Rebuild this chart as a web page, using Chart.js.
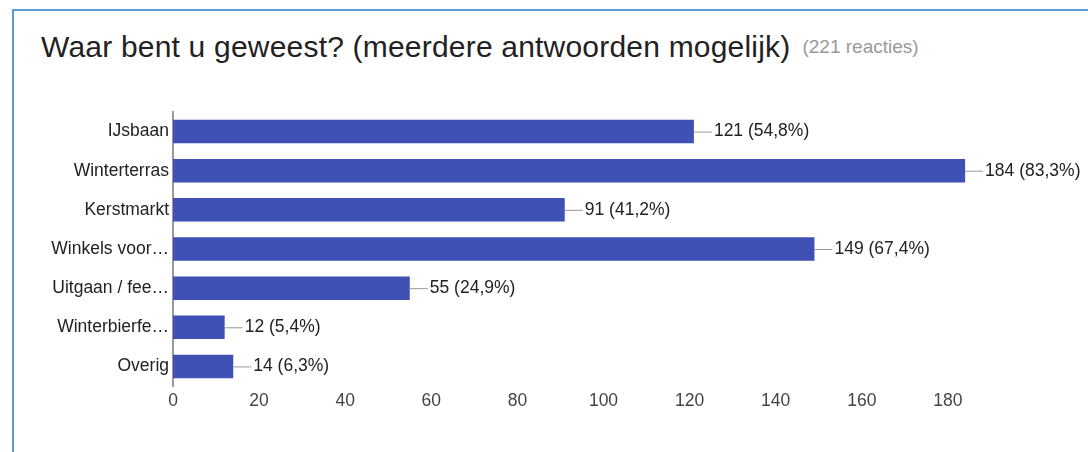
<!DOCTYPE html>
<html>
<head>
<meta charset="utf-8">
<script src="https://cdn.jsdelivr.net/npm/chart.js@4"></script>
<style>
  body { margin: 0; background: #fff; }
  #wrap { position: relative; width: 1088px; height: 452px; overflow: hidden; }
  #frame { position: absolute; left: 12px; top: 9px; right: -10px; bottom: -10px;
           border-left: 2px solid #5b9bd5; border-top: 2px solid #5b9bd5; }
  #title { position: absolute; left: 41px; top: 30px; font-family: Arial, "Liberation Sans", sans-serif;
           font-size: 30px; letter-spacing: 0.2px; color: #222; white-space: nowrap; }
  #title span { font-size: 19px; letter-spacing: 0; color: #999; margin-left: 12px; vertical-align: 4px; }
  canvas { position: absolute; left: 0; top: 0; }
</style>
</head>
<body>
<div id="wrap">
  <div id="frame"></div>
  <div id="title">Waar bent u geweest? (meerdere antwoorden mogelijk)<span>(221 reacties)</span></div>
  <canvas id="chart" width="1088" height="452"></canvas>
</div>
<script>
const categories = ['IJsbaan', 'Winterterras', 'Kerstmarkt', 'Winkels voor…', 'Uitgaan / fee…', 'Winterbierfe…', 'Overig'];
const counts = [121, 184, 91, 149, 55, 12, 14];
const percents = ['54,8', '83,3', '41,2', '67,4', '24,9', '5,4', '6,3'];
const xTicks = [0, 20, 40, 60, 80, 100, 120, 140, 160, 180];

const font = { family: 'Arial, "Liberation Sans", sans-serif', size: 17.5 };

// value label with a short grey leader line, like the original
const barLabels = {
    id: 'barLabels',
    afterDatasetsDraw(chart) {
        const ctx = chart.ctx;
        ctx.save();
        chart.getDatasetMeta(0).data.forEach((bar, i) => {
            ctx.strokeStyle = '#999';
            ctx.lineWidth = 1;
            ctx.beginPath();
            ctx.moveTo(bar.x, bar.y + 0.5);
            ctx.lineTo(bar.x + 18, bar.y + 0.5);
            ctx.stroke();
            ctx.fillStyle = '#222';
            ctx.font = font.size + 'px ' + font.family;
            ctx.textBaseline = 'middle';
            ctx.fillText(counts[i] + ' (' + percents[i] + '%)', bar.x + 20, bar.y);
        });
        ctx.restore();
    }
};

new Chart(document.getElementById('chart').getContext('2d'), {
    type: 'bar',
    data: {
        labels: categories,
        datasets: [{
            data: counts,
            backgroundColor: '#3f51b5',
            categoryPercentage: 1,
            barPercentage: 0.6
        }]
    },
    options: {
        indexAxis: 'y',
        responsive: false,
        animation: false,
        layout: { padding: { left: 0, right: 54, top: 112, bottom: 36 } },
        plugins: { legend: { display: false }, tooltip: { enabled: false } },
        scales: {
            x: {
                min: 0,
                max: 200,
                afterFit: s => { s.height = 30; },
                afterBuildTicks: s => { s.ticks = xTicks.map(v => ({ value: v })); },
                grid: { display: false, drawTicks: false },
                border: { display: false },
                ticks: { color: '#444', font: font, padding: 5 }
            },
            y: {
                afterFit: s => { s.width = 173; },
                grid: { display: false, drawTicks: false },
                border: { display: true, color: '#999', width: 2 },
                ticks: { color: '#222', font: font, padding: 4 }
            }
        }
    },
    plugins: [barLabels]
});
</script>
</body>
</html>
